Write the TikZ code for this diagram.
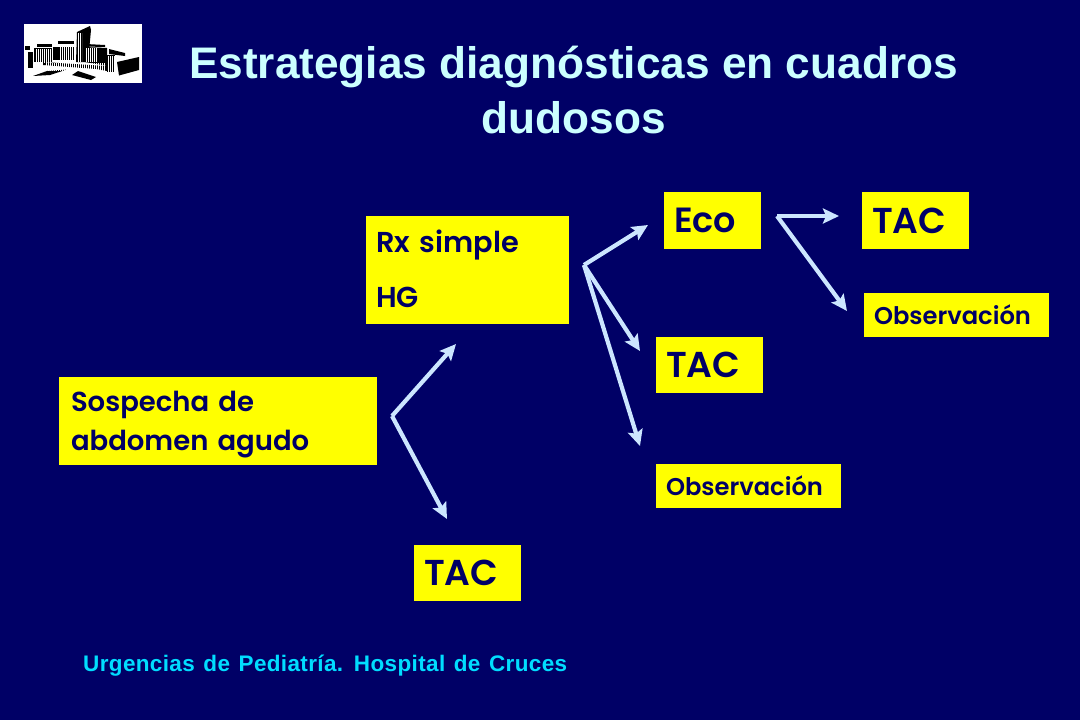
\documentclass[tikz,border=0pt]{standalone}
\usepackage{fontspec}
\usetikzlibrary{arrows.meta}
\setmainfont{Liberation Sans}
\newfontfamily\boxfont[BoldFont={Poppins SemiBold}]{Poppins}
\newfontfamily\footfont[LetterSpace=1.6,WordSpace=1.3]{Liberation Sans}
\definecolor{navy}{HTML}{000066}
\definecolor{titlecol}{HTML}{CCFFFF}
\definecolor{footcol}{HTML}{00DDFF}
\definecolor{arrowcol}{HTML}{CCE6FF}
\definecolor{boxcol}{HTML}{FFFF00}
\newcommand{\fsz}[1]{\fontsize{#1}{#1}\selectfont}
\tikzset{
  x=1pt,y=-1pt,
  box/.style={fill=boxcol,text=navy,inner sep=0pt,align=left,font=\boxfont\bfseries},
  conn/.style={draw=arrowcol,line width=4.2pt,-{Stealth[length=16pt,width=15pt,inset=3pt]}},
  bld/.style={fill=black,draw=none},
}
\begin{document}
\begin{tikzpicture}
\useasboundingbox (0,0) rectangle (1080,720);
\fill[navy] (0,0) rectangle (1080,720);
% logo
\fill[white] (24,24) rectangle (142,83);
\fill[bld] (25,46) rectangle (30,50);
\fill[bld] (28,52) rectangle (33,68);
\fill[bld] (34,48) rectangle (52,62);
\fill[bld] (37,44) -- (52,44) -- (52,47) -- (37,47) -- cycle;
\fill[bld] (53,47) rectangle (75,60);
\fill[bld] (58,41) -- (74,41) -- (74,44) -- (58,44) -- cycle;
\fill[bld] (77,32) -- (90,26) -- (91,30) -- (88,62) -- (76,62) -- cycle;
\fill[bld] (85,47) -- (107,48) -- (107,66) -- (85,62) -- cycle;
\fill[bld] (86,44) -- (105,45) -- (105,47) -- (86,46.5) -- cycle;
\fill[bld] (107,55) rectangle (115,72);
\fill[bld] (109,49) -- (125,53) -- (125,56) -- (109,54) -- cycle;
\fill[bld] (117,62) -- (139,57) -- (139,70) -- (119,75.5) -- cycle;
\fill[bld] (43,62) -- (107,66) -- (107,71) -- (96,69) -- (43,65) -- cycle;
\fill[bld] (33,76) -- (47,71) -- (67,69.5) -- (50,75) -- cycle;
\fill[bld] (72,75) -- (78,71) -- (96,77) -- (91,80) -- cycle;
\begin{scope}
  \clip (35,49) rectangle (52,62);
  \foreach \sx in {36,38,...,51}{\fill[white] (\sx,48) rectangle ++(0.9,15);}
\end{scope}
\begin{scope}
  \clip (60,47) rectangle (75,60);
  \foreach \sx in {60,62,...,74}{\fill[white] (\sx,46) rectangle ++(0.9,15);}
\end{scope}
\begin{scope}
  \clip (77,33) rectangle (82,61);
  \foreach \sx in {77.5,79.5,81.5}{\fill[white] (\sx,30) rectangle ++(0.9,32);}
\end{scope}
\begin{scope}
  \clip (86,48) rectangle (98,61);
  \foreach \sx in {86,88,...,97}{\fill[white] (\sx,47) rectangle ++(0.9,15);}
\end{scope}
\begin{scope}
  \clip (108,56) rectangle (115,71);
  \foreach \sx in {108,110,...,114}{\fill[white] (\sx,55) rectangle ++(0.9,17);}
\end{scope}
\begin{scope}
  \clip (45,63) rectangle (106,71);
  \foreach \sx in {46,48,...,105}{\fill[white] (\sx,62) rectangle ++(0.9,9);}
\end{scope}
% title
\node[text=titlecol,font=\fsz{44.2}\bfseries,align=center] (title) at (573.5,90)
  {Estrategias diagnósticas en cuadros\\[10pt]dudosos};
% boxes
\node[box,minimum width=318pt,minimum height=88pt,text width=294pt,font=\boxfont\bfseries\fsz{27.5}] (sosp) at (218,421)
  {\rule{0pt}{28pt}Sospecha de\\[10pt]abdomen agudo};
\node[box,minimum width=203pt,minimum height=108pt,text width=183pt,font=\boxfont\bfseries\fsz{28.8}] (rx) at (467.5,270)
  {Rx simple\\[26pt]HG\rule[-2pt]{0pt}{2pt}};
\node[box,minimum width=97pt,minimum height=57pt,text width=77pt,font=\boxfont\bfseries\fsz{35}] (eco) at (712.5,220.5) {Eco};
\node[box,minimum width=107pt,minimum height=57pt,text width=87pt,font=\boxfont\bfseries\fsz{36}] (tactop) at (915.5,220.5) {TAC};
\node[box,minimum width=185pt,minimum height=44pt,text width=165pt,font=\boxfont\bfseries\fsz{24.2}] (obsr) at (956.5,315) {Observación};
\node[box,minimum width=107pt,minimum height=56pt,text width=87pt,font=\boxfont\bfseries\fsz{36}] (tacmid) at (709.5,365) {TAC};
\node[box,minimum width=185pt,minimum height=44pt,text width=165pt,font=\boxfont\bfseries\fsz{24.2}] (obsm) at (748.5,486) {Observación};
\node[box,minimum width=107pt,minimum height=56pt,text width=87pt,font=\boxfont\bfseries\fsz{36}] (tacbot) at (467.5,573) {TAC};
% footer
\node[text=footcol,font=\footfont\fsz{22.5}\bfseries,anchor=west,inner sep=0pt] (foot) at (83,666)
  {Urgencias de Pediatría. Hospital de Cruces};
% connectors
\coordinate (b1) at (392,416);
\coordinate (b1a) at (456,344);
\coordinate (b1b) at (447,519);
\coordinate (b2) at (584,265);
\coordinate (b2a) at (648,225);
\coordinate (b2b) at (640,351);
\coordinate (b2c) at (640,446);
\coordinate (b3) at (777,216);
\coordinate (b3a) at (839,216);
\coordinate (b3b) at (847,311);
\draw[conn] (b1) -- (b1a);
\draw[conn] (b1) -- (b1b);
\draw[conn] (b2) -- (b2a);
\draw[conn] (b2) -- (b2b);
\draw[conn] (b2) -- (b2c);
\draw[conn] (b3) -- (b3a);
\draw[conn] (b3) -- (b3b);
\end{tikzpicture}
\end{document}
